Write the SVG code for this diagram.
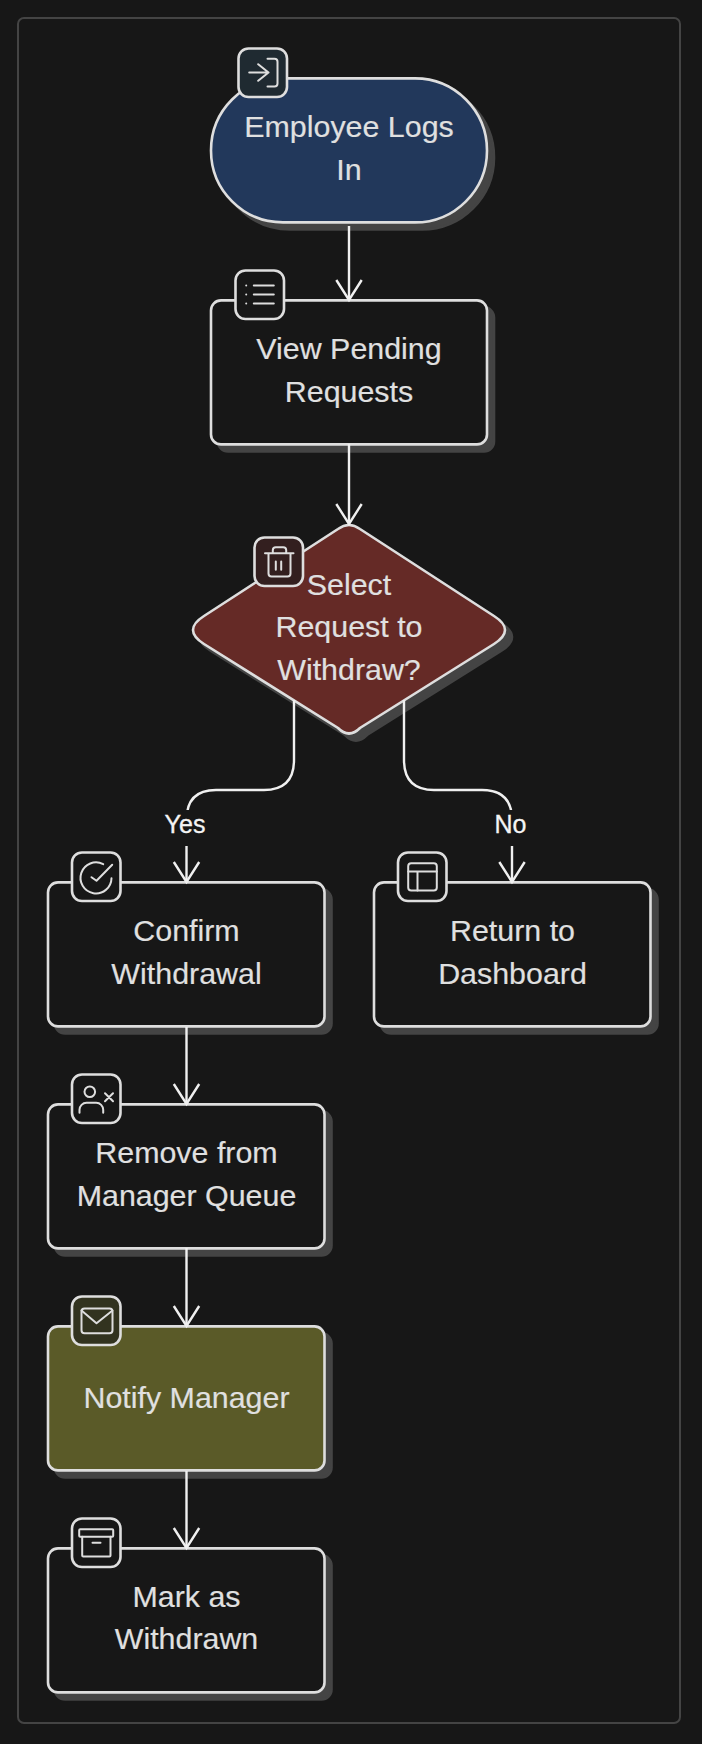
<svg xmlns="http://www.w3.org/2000/svg" width="702" height="1744" viewBox="0 0 702 1744">
<defs>
<style>
.t{font-family:"Liberation Sans",Arial,sans-serif;font-size:30.4px;fill:#e0e0e0;stroke:#e0e0e0;stroke-width:.15;text-anchor:middle}
.l{font-family:"Liberation Sans",Arial,sans-serif;font-size:25px;fill:#f4f4f4;stroke:#f4f4f4;stroke-width:.3;text-anchor:middle}
.n{stroke:#dedede;stroke-width:2.6;fill:#171717}
.s{fill:#444444;stroke:#444444;stroke-width:2.6}
.b{stroke:#dedede;stroke-width:2.6;fill:#171717}
.i{fill:none;stroke:#dedede;stroke-width:2;stroke-linecap:round;stroke-linejoin:round}
.c{fill:none;stroke:#f0f0f0;stroke-width:2.4}
</style>
<marker id="arrow" markerUnits="userSpaceOnUse" markerWidth="26" markerHeight="32" refX="0" refY="0" viewBox="-23 -16 26 32" orient="auto"><path d="M-20,-12.7 L0,0 L-20,12.7" fill="none" stroke="#f0f0f0" stroke-width="2.4"/></marker>
<g id="ic-login"><path d="M5,-13.7H12Q15,-13.7 15,-10.7V11Q15,14 12,14H5M-4.3,-8.3L6,0L-4.3,8.3M6,0H-13.3"/></g>
<g id="ic-list"><path d="M-5.7,-9H14.3M-5.7,0H14.3M-5.7,9H14.3M-13.3,-9h.01M-13.3,0h.01M-13.3,9h.01"/></g>
<g id="ic-trash"><path d="M-13.5,-8.3H15M-10,-8.3V12Q-10,15 -7,15H9Q12,15 12,12V-8.3M-5.7,-8.3V-11.3Q-5.7,-14.3 -2.7,-14.3H4.7Q7.7,-14.3 7.7,-11.3V-8.3M-2.7,0V8.3M2.7,0V8.3"/></g>
<g id="ic-check"><path d="M6.7,-12.3A15.5,15.5 0 1 0 15,1.7M-5,.7L0,4.3L15.7,-11.7"/></g>
<g id="ic-layout"><rect x="-14.3" y="-13.3" width="28.6" height="27.3" rx="3"/><path d="M-14.3,-5H14.3M-5,14V-5"/></g>
<g id="ic-userx"><circle cx="-6.7" cy="-6.7" r="5.3"/><path d="M-17,14.3v-3a7,7 0 0 1 7,-7h9.7a7,7 0 0 1 7,7v3M8.5,-5.3l8,8M16.5,-5.3l-8,8"/></g>
<g id="ic-mail"><rect x="-15" y="-12" width="31" height="24.7" rx="3"/><path d="M-15,-10L0,2.7L16,-10"/></g>
<g id="ic-archive"><rect x="-17.3" y="-13.3" width="34" height="7.6" rx="1"/><path d="M-14.3,-5.7V13Q-14.3,14 -13.3,14H13Q14,14 14,13V-5.7M-4,.3H4"/></g>
</defs>
<rect width="702" height="1744" fill="#171717"/>
<rect id="frame" x="18" y="18" width="662" height="1705" rx="6" fill="none" stroke="#444444" stroke-width="2"/>

<g id="shadows">
<rect class="s" x="218" y="85.4" width="276" height="144" rx="72"/>
<rect class="s" x="218" y="307.4" width="276" height="144" rx="10"/>
<path class="s" d="M345,536 Q356,528 367,536 L501,623 Q523,637 501,651 L367,735 Q356,746 345,735 L211,651 Q189,637 211,623 Z"/>
<rect class="s" x="55" y="889.4" width="276.5" height="144" rx="10"/>
<rect class="s" x="381" y="889.4" width="276.5" height="144" rx="10"/>
<rect class="s" x="55" y="1111.4" width="276.5" height="144" rx="10"/>
<rect class="s" x="55" y="1333.4" width="276.5" height="144" rx="10"/>
<rect class="s" x="55" y="1555.4" width="276.5" height="144" rx="10"/>
</g>

<g id="n1"><rect class="n" style="fill:#22385b" x="211" y="78.4" width="276" height="144" rx="72"/>
<text class="t" x="349" y="137.4">Employee Logs</text><text class="t" x="349" y="180">In</text>
<rect class="b" style="fill:#1f2a31" x="238.5" y="48.5" width="48.5" height="48.5" rx="10"/><use href="#ic-login" class="i" x="262.5" y="72.5"/></g>
<g id="n2"><rect class="n" x="211" y="300.4" width="276" height="144" rx="10"/>
<text class="t" x="349" y="359.4">View Pending</text><text class="t" x="349" y="402">Requests</text>
<rect class="b" x="235.5" y="270.5" width="48.5" height="48.5" rx="10"/><use href="#ic-list" class="i" x="259.5" y="294.5"/></g>
<g id="n3"><path class="n" style="fill:#652a26" d="M338,529 Q349,521 360,529 L494,616 Q516,630 494,644 L360,728 Q349,739 338,728 L204,644 Q182,630 204,616 Z"/>
<text class="t" x="349" y="595.4">Select</text><text class="t" x="349" y="637.4">Request to</text><text class="t" x="349" y="680.4">Withdraw?</text>
<rect class="b" style="fill:#331f1f" x="254.5" y="537.5" width="48.5" height="48.5" rx="10"/><use href="#ic-trash" class="i" x="278.5" y="561.5"/></g>
<g id="n4"><rect class="n" x="48" y="882.4" width="276.5" height="144" rx="10"/>
<text class="t" x="186.5" y="941.4">Confirm</text><text class="t" x="186.5" y="984">Withdrawal</text>
<rect class="b" x="72" y="852.5" width="48.5" height="48.5" rx="10"/><use href="#ic-check" class="i" x="96.5" y="876.5"/></g>
<g id="n5"><rect class="n" x="374" y="882.4" width="276.5" height="144" rx="10"/>
<text class="t" x="512.5" y="941.4">Return to</text><text class="t" x="512.5" y="984">Dashboard</text>
<rect class="b" x="398" y="852.5" width="48.5" height="48.5" rx="10"/><use href="#ic-layout" class="i" x="422.5" y="876.5"/></g>
<g id="n6"><rect class="n" x="48" y="1104.4" width="276.5" height="144" rx="10"/>
<text class="t" x="186.5" y="1163.4">Remove from</text><text class="t" x="186.5" y="1206">Manager Queue</text>
<rect class="b" x="72" y="1074.5" width="48.5" height="48.5" rx="10"/><use href="#ic-userx" class="i" x="96.5" y="1098.5"/></g>
<g id="n7"><rect class="n" style="fill:#5a5a28" x="48" y="1326.4" width="276.5" height="144" rx="10"/>
<text class="t" x="186.5" y="1407.6">Notify Manager</text>
<rect class="b" style="fill:#32331f" x="72" y="1296.5" width="48.5" height="48.5" rx="10"/><use href="#ic-mail" class="i" x="96.5" y="1320.5"/></g>
<g id="n8"><rect class="n" x="48" y="1548.4" width="276.5" height="144" rx="10"/>
<text class="t" x="186.5" y="1607.4">Mark as</text><text class="t" x="186.5" y="1649.4">Withdrawn</text>
<rect class="b" x="72" y="1518.5" width="48.5" height="48.5" rx="10"/><use href="#ic-archive" class="i" x="96.5" y="1542.5"/></g>

<g id="connectors">
<path class="c" marker-end="url(#arrow)" d="M349,226 V300"/>
<path class="c" marker-end="url(#arrow)" d="M349,444 V524"/>
<path class="c" d="M294,700 V760 Q294,790 264,790 H216 Q186.5,790 186.5,820"/>
<path class="c" d="M404,700 V760 Q404,790 434,790 H482 Q512,790 512,820"/>
<path class="c" marker-end="url(#arrow)" d="M186.5,1027 V1104"/>
<path class="c" marker-end="url(#arrow)" d="M186.5,1248 V1326"/>
<path class="c" marker-end="url(#arrow)" d="M186.5,1471 V1548"/>
<g id="edge-yes"><rect x="160" y="810" width="53" height="36" fill="#171717"/><text class="l" x="185" y="833">Yes</text>
<path class="c" marker-end="url(#arrow)" d="M186.5,846 V882"/></g>
<g id="edge-no"><rect x="488" y="810" width="48" height="36" fill="#171717"/><text class="l" x="510.5" y="833">No</text>
<path class="c" marker-end="url(#arrow)" d="M512,846 V882"/></g>
</g>
</svg>
